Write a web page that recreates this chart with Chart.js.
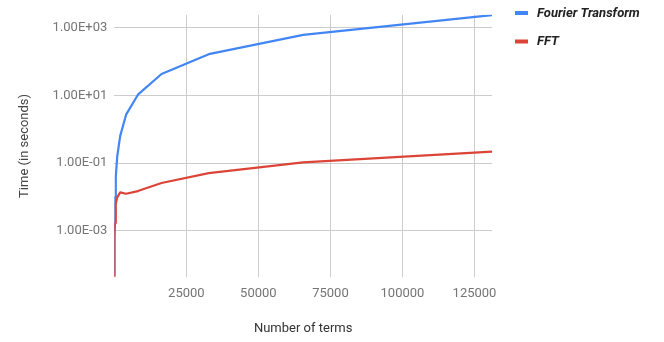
<!DOCTYPE html>
<html>
<head>
<meta charset="utf-8">
<script src="https://cdn.jsdelivr.net/npm/chart.js@4/dist/chart.umd.min.js"></script>
<style>
  html, body { margin: 0; padding: 0; background: #ffffff; }
  #wrap { width: 664px; height: 342px; position: relative; }
</style>
</head>
<body>
<div id="wrap"><canvas id="chart" width="664" height="342"></canvas></div>
<script>
// Problem sizes (number of terms), powers of two
const terms = [2, 4, 8, 16, 32, 64, 128, 256, 512, 1024, 2048, 4096, 8192, 16384, 32768, 65536, 131072];

// Measured run times in seconds
const fourierTimes = [0.00005, 0.00006, 0.00008, 0.00015, 0.0003, 0.0008, 0.0025, 0.01, 0.04, 0.16, 0.64, 2.7, 10.5, 43, 165, 612, 2350];
const fftTimes     = [0.000045, 0.00006, 0.0001, 0.00018, 0.0003, 0.0005, 0.0007, 0.0017, 0.0063, 0.0098, 0.0137, 0.0125, 0.015, 0.026, 0.051, 0.105, 0.22];

// Axis ticks
const xTicks = [25000, 50000, 75000, 100000, 125000];
const yTicks = [0.001, 0.1, 10, 1000];

const seriesNames = ['Fourier Transform', 'FFT'];
const seriesColors = ['#4285F4', '#DB4437'];

function toPoints(values) {
  return terms.map((n, i) => ({ x: n, y: values[i] }));
}

function sciLabel(v) {
  const exp = Math.round(Math.log10(v));
  const mant = v / Math.pow(10, exp);
  const sign = exp < 0 ? '-' : '+';
  const e = String(Math.abs(exp)).padStart(2, '0');
  return mant.toFixed(2) + 'E' + sign + e;
}

// Legend drawn at the right of the plot
const sideLegend = {
  id: 'sideLegend',
  afterDraw(chart) {
    const ctx = chart.ctx;
    ctx.save();
    ctx.font = 'italic bold 13px Roboto';
    ctx.textBaseline = 'middle';
    ctx.textAlign = 'left';
    chart.data.datasets.forEach((ds, i) => {
      const y = 13 + i * 28.5;
      ctx.fillStyle = ds.borderColor;
      ctx.fillRect(515, y - 2, 13, 4);
      ctx.fillStyle = '#222222';
      ctx.fillText(ds.label, 537, y + 0.5);
    });
    ctx.restore();
  }
};

const ctx = document.getElementById('chart').getContext('2d');
new Chart(ctx, {
  type: 'line',
  data: {
    datasets: [
      { label: seriesNames[0], data: toPoints(fourierTimes), borderColor: seriesColors[0], backgroundColor: seriesColors[0], order: 2 },
      { label: seriesNames[1], data: toPoints(fftTimes), borderColor: seriesColors[1], backgroundColor: seriesColors[1], order: 1 }
    ]
  },
  options: {
    responsive: false,
    animation: false,
    devicePixelRatio: 1,
    layout: { padding: { top: 12, right: 172, left: 0, bottom: 0 } },
    elements: {
      point: { radius: 0 },
      line: { borderWidth: 2.2, tension: 0, borderJoinStyle: 'round', borderCapStyle: 'round' }
    },
    plugins: {
      legend: { display: false },
      tooltip: { enabled: false }
    },
    scales: {
      x: {
        type: 'linear',
        min: 0,
        max: 131072,
        border: { display: false },
        grid: { color: '#cccccc', lineWidth: 1, drawTicks: false },
        afterBuildTicks(scale) { scale.ticks = xTicks.map(v => ({ value: v })); },
        afterFit(scale) { scale.height = 65; },
        ticks: {
          padding: 9,
          color: '#757575',
          font: { family: 'Roboto', size: 13 },
          maxRotation: 0,
          callback: v => String(v)
        },
        title: {
          display: true,
          text: 'Number of terms',
          color: '#333333',
          font: { family: 'Roboto', size: 13 },
          padding: { top: 0, bottom: 5 }
        }
      },
      y: {
        type: 'logarithmic',
        min: 0.0000435,
        max: 2400,
        border: { display: false },
        grid: { color: '#cccccc', lineWidth: 1, drawTicks: false },
        afterBuildTicks(scale) { scale.ticks = yTicks.map(v => ({ value: v })); },
        afterFit(scale) { scale.width = 114.3; },
        ticks: {
          padding: 7,
          color: '#757575',
          font: { family: 'Roboto', size: 13 },
          callback: v => sciLabel(v)
        },
        title: {
          display: true,
          text: 'Time (in seconds)',
          color: '#444444',
          font: { family: 'Roboto', size: 13 },
          padding: { top: 17, bottom: 0 }
        }
      }
    }
  },
  plugins: [sideLegend]
});
</script>
</body>
</html>
